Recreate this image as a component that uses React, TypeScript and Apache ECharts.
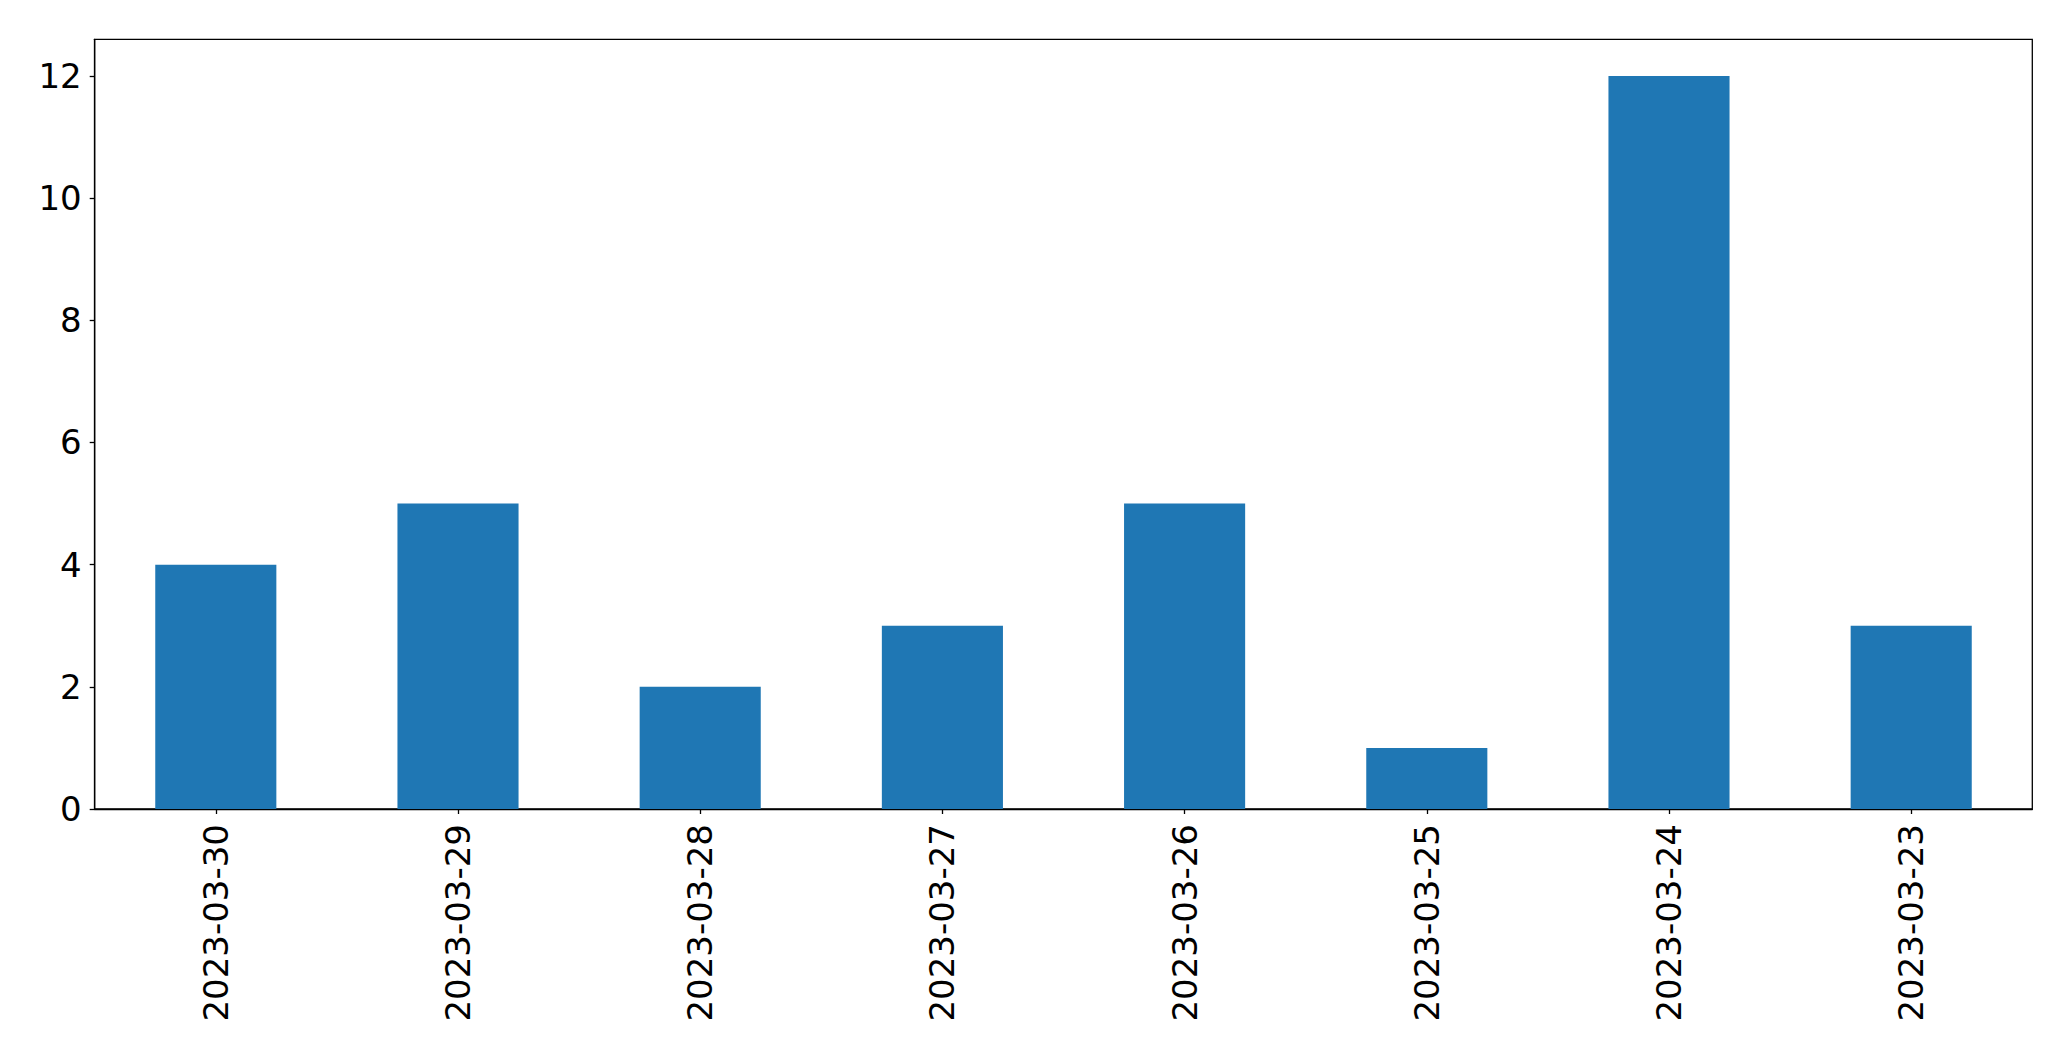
import React, { useEffect, useRef } from "react";
import * as echarts from "echarts";

const categories = [
  "2023-03-30",
  "2023-03-29",
  "2023-03-28",
  "2023-03-27",
  "2023-03-26",
  "2023-03-25",
  "2023-03-24",
  "2023-03-23",
];
const counts = [4, 5, 2, 3, 5, 1, 12, 3];
const yTicks = [0, 2, 4, 6, 8, 10, 12];
const yMax = 12.6;

export default function App() {
  const ref = useRef<HTMLDivElement>(null);
  useEffect(() => {
    document.body.style.margin = "0";
    if (!ref.current) return;
    const chart = echarts.init(ref.current, null, { renderer: "svg" });
    const font = "DejaVu Sans";
    chart.setOption({
      animation: false,
      backgroundColor: "#ffffff",
      grid: {
        left: 94.7,
        right: 38.7,
        top: 39.3,
        bottom: 252,
        show: true,
        borderColor: "#000000",
        borderWidth: 1.3,
        backgroundColor: "transparent",
      },
      xAxis: {
        type: "category",
        data: categories,
        boundaryGap: true,
        axisLine: { show: true, lineStyle: { color: "#000000", width: 1.3 } },
        axisTick: {
          show: true,
          alignWithLabel: true,
          length: 5,
          lineStyle: { color: "#000000", width: 1.3 },
        },
        axisLabel: {
          rotate: 90,
          interval: 0,
          margin: 15,
          fontSize: 34,
          fontFamily: font,
          color: "#000000",
        },
        splitLine: { show: false },
      },
      yAxis: {
        type: "value",
        min: 0,
        max: yMax,
        interval: 2,
        axisLine: { show: true, lineStyle: { color: "#000000", width: 1.3 } },
        axisTick: {
          show: true,
          length: 5,
          lineStyle: { color: "#000000", width: 1.3 },
          customValues: yTicks,
        },
        axisLabel: {
          margin: 13,
          fontSize: 34,
          fontFamily: font,
          color: "#000000",
          customValues: yTicks,
        },
        splitLine: { show: false },
      },
      series: [
        {
          type: "bar",
          data: counts,
          barWidth: "50%",
          itemStyle: { color: "#1f77b4" },
        },
      ],
    });
    return () => chart.dispose();
  }, []);
  return <div ref={ref} style={{ width: 2071, height: 1061 }} />;
}
